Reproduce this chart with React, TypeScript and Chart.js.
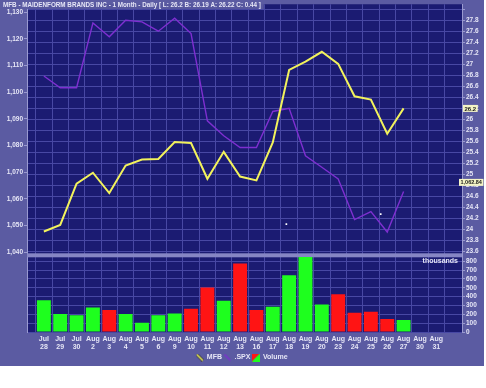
import React, { useEffect, useRef } from 'react';
import { Chart, registerables } from 'chart.js';

Chart.register(...registerables);

const TITLE = 'MFB - MAIDENFORM BRANDS INC - 1 Month - Daily [ L: 26.2 B: 26.19 A: 26.22 C: 0.44 ]';

const months = ['Jul', 'Jul', 'Jul', 'Aug', 'Aug', 'Aug', 'Aug', 'Aug', 'Aug', 'Aug', 'Aug', 'Aug', 'Aug', 'Aug', 'Aug', 'Aug', 'Aug', 'Aug', 'Aug', 'Aug', 'Aug', 'Aug', 'Aug', 'Aug', 'Aug'];
const days = ['28', '29', '30', '2', '3', '4', '5', '6', '9', '10', '11', '12', '13', '16', '17', '18', '19', '20', '23', '24', '25', '26', '27', '30', '31'];

const mfbClose = [23.96, 24.08, 24.83, 25.03, 24.66, 25.16, 25.27, 25.28, 25.59, 25.57, 24.92, 25.41, 24.96, 24.89, 25.58, 26.9, 27.05, 27.23, 27.01, 26.42, 26.36, 25.74, 26.2];
const spxClose = [1106.1, 1101.7, 1101.7, 1126.0, 1120.8, 1127.0, 1126.4, 1122.9, 1127.8, 1122.0, 1089.3, 1083.7, 1079.3, 1079.3, 1092.8, 1094.0, 1076.2, 1071.9, 1067.5, 1052.3, 1055.3, 1047.6, 1062.84];
const volumeThousands = [360, 203, 188, 278, 248, 203, 105, 188, 210, 263, 504, 353, 774, 248, 285, 642, 848, 312, 428, 218, 229, 146, 135];

const eventX = [14.83, 20.6];
const eventY = [1050.6, 1054.3];

const priceTicks = [23.6, 23.8, 24, 24.2, 24.4, 24.6, 24.8, 25, 25.2, 25.4, 25.6, 25.8, 26, 26.2, 26.4, 26.6, 26.8, 27, 27.2, 27.4, 27.6, 27.8, 28];
const spxTicks = [1040, 1050, 1060, 1070, 1080, 1090, 1100, 1110, 1120, 1130];
const volumeTicks = [0, 100, 200, 300, 400, 500, 600, 700, 800];

const OUTER = '#5b5ba2';
const PLOT = '#1b1b72';
const GRID = '#4848a4';
const TEXT = '#e6e6f6';
const AXIS = '#9a9ad0';
const SEP = '#8686c4';
const YELLOW = '#f2f25c';
const PURPLE = '#7e2fd0';
const GREEN = '#1eff1e';
const RED = '#ff1414';
const FAMILY = '"Liberation Sans", Arial, sans-serif';
const FONT = { family: FAMILY, size: 7, weight: 'bold' as const, lineHeight: 1.15 };
const YFONT = { family: FAMILY, size: 6.5, weight: 'bold' as const, lineHeight: 1.0 };

function makeIcon(draw: (g: CanvasRenderingContext2D) => void) {
  const c = document.createElement('canvas');
  c.width = 8;
  c.height = 8;
  const g = c.getContext('2d')!;
  draw(g);
  return c;
}

export default function App() {
  const ref = useRef<HTMLCanvasElement>(null);

  useEffect(() => {
    const canvas = ref.current!;

    const iconMfb = makeIcon((g) => {
      g.strokeStyle = '#303030';
      g.lineWidth = 3;
      g.beginPath(); g.moveTo(1, 1); g.lineTo(7, 7); g.stroke();
      g.strokeStyle = YELLOW;
      g.lineWidth = 1.5;
      g.beginPath(); g.moveTo(1, 1); g.lineTo(7, 7); g.stroke();
    });
    const iconSpx = makeIcon((g) => {
      g.strokeStyle = PURPLE;
      g.lineWidth = 1.5;
      g.beginPath(); g.moveTo(1, 1); g.lineTo(7, 7); g.stroke();
    });
    const iconVol = makeIcon((g) => {
      g.fillStyle = RED;
      g.beginPath(); g.moveTo(0, 0); g.lineTo(8, 0); g.lineTo(0, 8); g.closePath(); g.fill();
      g.fillStyle = GREEN;
      g.beginPath(); g.moveTo(8, 0); g.lineTo(8, 8); g.lineTo(0, 8); g.closePath(); g.fill();
    });

    const volColors = volumeThousands.map((_, i) =>
      i === 0 || mfbClose[i] >= mfbClose[i - 1] ? GREEN : RED
    );

    const decor = {
      id: 'decor',
      beforeDraw(chart: any) {
        const { ctx, chartArea } = chart;
        ctx.save();
        ctx.fillStyle = PLOT;
        ctx.fillRect(chartArea.left, chartArea.top, chartArea.width, chartArea.height);
        ctx.restore();
      },
      beforeDatasetsDraw(chart: any) {
        const { ctx, chartArea } = chart;
        const yV = chart.scales.yV;
        ctx.save();
        ctx.fillStyle = SEP;
        ctx.fillRect(chartArea.left, yV.top - 1.5, chartArea.width, 4);
        ctx.restore();
      },
      afterDraw(chart: any) {
        const { ctx, chartArea } = chart;
        ctx.save();
        // title
        ctx.font = `bold 10px ${FAMILY}`;
        const w10 = ctx.measureText(TITLE).width;
        const size = (258 / w10) * 10;
        ctx.font = `bold ${size.toFixed(2)}px ${FAMILY}`;
        const tw = ctx.measureText(TITLE).width;
        ctx.fillStyle = 'rgba(91,91,162,0.92)';
        ctx.fillRect(0, 0, tw + 6, 9);
        ctx.fillStyle = TEXT;
        ctx.textBaseline = 'middle';
        ctx.textAlign = 'left';
        ctx.fillText(TITLE, 3, 5);

        // thousands
        const yV = chart.scales.yV;
        ctx.font = `bold 7px ${FAMILY}`;
        ctx.textAlign = 'right';
        ctx.fillStyle = TEXT;
        ctx.fillText('thousands', chartArea.right - 4, yV.getPixelForValue(volumeTicks[volumeTicks.length - 1]));

        // last value boxes
        const yR = chart.scales.yR;
        const lastMfb = mfbClose[mfbClose.length - 1];
        const mfbText = String(lastMfb);
        ctx.font = `bold 6px ${FAMILY}`;
        const mw = ctx.measureText(mfbText).width + 3;
        const my = yR.getPixelForValue(lastMfb);
        ctx.fillStyle = '#f4f4c6';
        ctx.fillRect(chartArea.right + 1, my - 3.5, mw, 7);
        ctx.fillStyle = '#1a1a1a';
        ctx.textAlign = 'left';
        ctx.fillText(mfbText, chartArea.right + 2.5, my + 0.5);

        const yL = chart.scales.yL;
        const lastSpx = spxClose[spxClose.length - 1];
        const spxText = lastSpx.toLocaleString('en-US', { minimumFractionDigits: 2 });
        ctx.font = `bold 5.5px ${FAMILY}`;
        const sw = ctx.measureText(spxText).width + 3;
        const sy = yL.getPixelForValue(lastSpx) - 9;
        ctx.fillStyle = '#f4f4c6';
        ctx.fillRect(chartArea.right - 3, sy - 3.5, sw, 7);
        ctx.fillStyle = '#1a1a1a';
        ctx.fillText(spxText, chartArea.right - 1.5, sy + 0.5);
        ctx.restore();
      },
    };

    const chart = new Chart(canvas, {
      type: 'line',
      data: {
        datasets: [
          {
            type: 'bar',
            label: 'Volume',
            data: volumeThousands.map((v, i) => ({ x: i, y: v })),
            xAxisID: 'x',
            yAxisID: 'yV',
            backgroundColor: volColors,
            borderWidth: 0,
            barPercentage: 0.85,
            categoryPercentage: 1,
            order: 3,
          } as any,
          {
            type: 'line',
            label: '.SPX',
            data: spxClose.map((v, i) => ({ x: i, y: v })),
            xAxisID: 'x',
            yAxisID: 'yL',
            borderColor: PURPLE,
            borderWidth: 1.4,
            pointRadius: 0,
            tension: 0,
            fill: false,
            order: 2,
          },
          {
            type: 'line',
            label: 'MFB',
            data: mfbClose.map((v, i) => ({ x: i, y: v })),
            xAxisID: 'x',
            yAxisID: 'yR',
            borderColor: YELLOW,
            borderWidth: 2,
            pointRadius: 0,
            tension: 0,
            fill: false,
            order: 1,
          },
          {
            type: 'scatter',
            label: 'events',
            data: eventX.map((x, i) => ({ x, y: eventY[i] })),
            xAxisID: 'x',
            yAxisID: 'yL',
            pointStyle: 'rect',
            pointRadius: 1.2,
            backgroundColor: '#ffffff',
            borderWidth: 0,
            order: 0,
          } as any,
        ],
      },
      options: {
        animation: false,
        responsive: false,
        maintainAspectRatio: false,
        layout: { padding: { top: 3, left: 0, right: 0, bottom: 0 } },
        plugins: {
          tooltip: { enabled: false },
          title: { display: false },
          legend: {
            display: true,
            position: 'bottom',
            align: 'center',
            maxHeight: 14,
            labels: {
              usePointStyle: true,
              boxWidth: 7,
              boxHeight: 7,
              padding: 2,
              color: TEXT,
              font: FONT,
              generateLabels: () => [
                { text: 'MFB', pointStyle: iconMfb, fillStyle: 'transparent', strokeStyle: 'transparent', lineWidth: 0, hidden: false, fontColor: TEXT, datasetIndex: 2 },
                { text: '.SPX', pointStyle: iconSpx, fillStyle: 'transparent', strokeStyle: 'transparent', lineWidth: 0, hidden: false, fontColor: TEXT, datasetIndex: 1 },
                { text: 'Volume', pointStyle: iconVol, fillStyle: 'transparent', strokeStyle: 'transparent', lineWidth: 0, hidden: false, fontColor: TEXT, datasetIndex: 0 },
              ] as any,
            },
          },
        },
        scales: {
          x: {
            type: 'linear',
            position: 'bottom',
            min: -0.5,
            max: 25.04,
            afterBuildTicks: (s: any) => {
              s.ticks = days.map((_, i) => ({ value: i }));
            },
            afterFit: (s: any) => {
              s.height = 20;
            },
            ticks: {
              autoSkip: false,
              maxRotation: 0,
              minRotation: 0,
              padding: 3,
              color: TEXT,
              font: FONT,
              callback: (v: any) => [months[v], days[v]],
            },
            grid: { color: GRID, drawTicks: false, lineWidth: 1 },
            border: { display: false },
          },
          yR: {
            type: 'linear',
            position: 'right',
            stack: 'r',
            stackWeight: 251.5,
            min: 23.537,
            max: 28.095,
            afterBuildTicks: (s: any) => {
              s.ticks = priceTicks.map((v) => ({ value: v }));
            },
            afterFit: (s: any) => {
              s.width = 22;
            },
            ticks: {
              autoSkip: false,
              padding: 1,
              color: TEXT,
              font: YFONT,
              callback: (v: any) => (v > 27.9 ? '' : String(Number(Number(v).toFixed(1)))),
            },
            grid: { color: GRID, tickLength: 3, tickColor: AXIS, lineWidth: 1 },
            border: { color: AXIS },
          },
          yV: {
            type: 'linear',
            position: 'right',
            stack: 'r',
            stackWeight: 77.5,
            min: 0,
            max: 873,
            afterBuildTicks: (s: any) => {
              s.ticks = volumeTicks.map((v) => ({ value: v }));
            },
            afterFit: (s: any) => {
              s.width = 22;
            },
            ticks: { autoSkip: false, padding: 1, color: TEXT, font: YFONT },
            grid: { color: GRID, tickLength: 3, tickColor: AXIS, lineWidth: 1 },
            border: { color: AXIS },
          },
          yLV: {
            type: 'linear',
            position: 'left',
            stack: 'l',
            stackWeight: 77.5,
            min: 0,
            max: 1,
            afterFit: (s: any) => {
              s.width = 27;
            },
            ticks: { display: false },
            grid: { drawOnChartArea: false, drawTicks: false },
            border: { color: AXIS },
          },
          yL: {
            type: 'linear',
            position: 'left',
            stack: 'l',
            stackWeight: 251.5,
            min: 1039.07,
            max: 1133.0,
            afterBuildTicks: (s: any) => {
              s.ticks = spxTicks.map((v) => ({ value: v }));
            },
            afterFit: (s: any) => {
              s.width = 27;
            },
            ticks: {
              autoSkip: false,
              padding: 1,
              color: TEXT,
              font: YFONT,
              callback: (v: any) => Number(v).toLocaleString('en-US'),
            },
            grid: { drawOnChartArea: false, tickLength: 3, tickColor: AXIS, color: AXIS },
            border: { color: AXIS },
          },
        },
      } as any,
      plugins: [decor],
    });

    return () => chart.destroy();
  }, []);

  return (
    <div style={{ position: 'fixed', left: 0, top: 0, width: 486, height: 388, background: '#ffffff' }}>
      <div style={{ position: 'absolute', left: 0, top: 0, width: 484, height: 366, background: OUTER }}>
        <canvas ref={ref} width={484} height={366} style={{ display: 'block', width: 484, height: 366 }} />
      </div>
    </div>
  );
}
